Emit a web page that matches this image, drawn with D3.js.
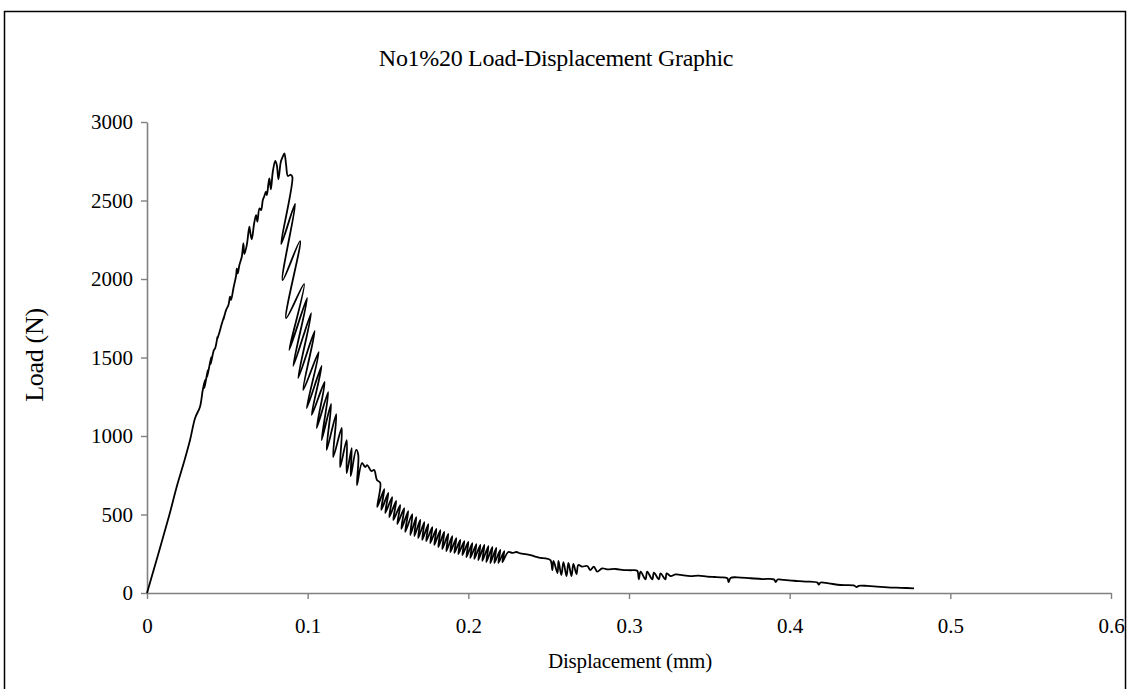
<!DOCTYPE html>
<html>
<head>
<meta charset="utf-8">
<script src="https://cdn.jsdelivr.net/npm/d3@7"></script>
<style>
  body { margin: 0; background: #fff; }
  svg { display: block; }
  text { font-family: "Liberation Serif", "Times New Roman", serif; fill: #000; }
</style>
</head>
<body>
<svg id="chart" width="1134" height="689"></svg>
<script>
// Measured load-displacement record (displacement in mm, load in N)
const displacement = [
  0, 0.0139, 0.0185, 0.0234, 0.0268, 0.0299, 0.0330, 0.0347, 0.0361, 0.0358,
  0.0378, 0.0375, 0.0399, 0.0396, 0.0417, 0.0424, 0.0438, 0.0434, 0.0450, 0.0465,
  0.0480, 0.0475, 0.0492, 0.0507, 0.0517, 0.0523, 0.0538, 0.0555, 0.0559, 0.0565,
  0.0575, 0.0590, 0.0600, 0.0606, 0.0621, 0.0637, 0.0642, 0.0652, 0.0667, 0.0679,
  0.0687, 0.0700, 0.0710, 0.0721, 0.0729, 0.0740, 0.0746, 0.0756, 0.0762, 0.0771,
  0.0783, 0.0798, 0.0808, 0.0818, 0.0833, 0.0845, 0.0855, 0.0866, 0.0877, 0.0895,
  0.0905,
  // post-peak saw-tooth
  0.0835, 0.0922, 0.0844, 0.0953, 0.0866, 0.0978, 0.0885, 0.0997, 0.0910, 0.1022,
  0.0941, 0.1044, 0.0972, 0.1069, 0.0994, 0.1087, 0.1025, 0.1106, 0.1056, 0.1128,
  0.1087, 0.1146, 0.1118, 0.1178, 0.1159, 0.1212, 0.1202, 0.1243, 0.1243, 0.1274,
  0.1268, 0.1302, 0.1315, 0.1307, 0.1338, 0.1358, 0.1371, 0.1396, 0.1414, 0.1431,
  // dense cycling band
  0.1452, 0.1433, 0.1477, 0.1458, 0.1502, 0.1483, 0.1526, 0.1508, 0.1551, 0.1533,
  0.1576, 0.1558, 0.1601, 0.1583, 0.1626, 0.1607, 0.1651, 0.1639, 0.1676, 0.1664,
  0.1701, 0.1688, 0.1726, 0.1713, 0.1751, 0.1738, 0.1776, 0.1763, 0.1801, 0.1788,
  0.1826, 0.1813, 0.1850, 0.1838, 0.1875, 0.1863, 0.1900, 0.1888, 0.1925, 0.1913,
  0.1950, 0.1938, 0.1975, 0.1963, 0.2000, 0.1988, 0.2025, 0.2012, 0.2050, 0.2037,
  0.2075, 0.2062, 0.2100, 0.2087, 0.2125, 0.2112, 0.2150, 0.2137, 0.2174, 0.2162,
  0.2199, 0.2187, 0.2224, 0.2212,
  // tail
  0.2249, 0.2274, 0.2299, 0.2324, 0.2355, 0.2386, 0.2417, 0.2449, 0.2480, 0.2511,
  0.2523, 0.2530, 0.2555, 0.2561, 0.2579, 0.2592, 0.2611, 0.2623, 0.2642, 0.2654,
  0.2673, 0.2685, 0.2708, 0.2740, 0.2760, 0.2781, 0.2802, 0.2833, 0.2864, 0.2916,
  0.2968, 0.3009, 0.3051, 0.3061, 0.3072, 0.3103, 0.3113, 0.3145, 0.3155, 0.3186,
  0.3196, 0.3227, 0.3234, 0.3259, 0.3290, 0.3321, 0.3383, 0.3433, 0.3487, 0.3533,
  0.3570, 0.3612, 0.3620, 0.3632, 0.3674, 0.3757, 0.3832, 0.3902, 0.3913, 0.3925,
  0.3963, 0.4027, 0.4100, 0.4173, 0.4181, 0.4193, 0.4243, 0.4318, 0.4399, 0.4417,
  0.4430, 0.4484, 0.4542, 0.4609, 0.4692, 0.4774
];

const load = [
  0, 497, 677, 847, 974, 1113, 1187, 1293, 1357, 1306,
  1420, 1376, 1503, 1458, 1548, 1558, 1629, 1607, 1658, 1713,
  1764, 1739, 1802, 1834, 1887, 1866, 1941, 2025, 2068, 2036,
  2089, 2142, 2227, 2159, 2216, 2333, 2301, 2253, 2355, 2407,
  2365, 2450, 2439, 2503, 2524, 2556, 2535, 2609, 2641, 2571,
  2683, 2753, 2726, 2635, 2747, 2779, 2800, 2726, 2656, 2664,
  2648,
  2223, 2478, 1993, 2242, 1751, 1968, 1548, 1879, 1446, 1783,
  1369, 1669, 1293, 1535, 1178, 1446, 1134, 1344, 1051, 1280,
  974, 1204, 911, 1140, 866, 1051, 802, 974, 764, 923,
  745, 911, 879, 688, 828, 802, 815, 777, 783, 720,
  701, 548, 662, 529, 637, 510, 611, 484, 586, 465,
  560, 439, 541, 408, 522, 389, 503, 369, 484, 363,
  465, 350, 452, 338, 439, 331, 420, 318, 408, 306,
  401, 293, 389, 280, 376, 267, 363, 261, 350, 255,
  338, 248, 331, 242, 325, 229, 318, 223, 312, 217,
  306, 210, 306, 204, 299, 197, 293, 191, 287, 191,
  274, 191, 267, 197,
  261, 255, 261, 252, 248, 242, 232, 223, 220, 210,
  146, 204, 127, 204, 115, 197, 108, 191, 108, 185,
  121, 178, 168, 172, 146, 168, 136, 157, 151, 153,
  146, 145, 142, 87, 136, 87, 136, 87, 129, 87,
  125, 87, 125, 108, 118, 115, 108, 111, 104, 102,
  100, 94, 70, 96, 100, 94, 89, 87, 70, 86,
  83, 78, 73, 66, 54, 67, 61, 51, 48, 38,
  46, 45, 41, 36, 33, 30
];

const xTicks = [0, 0.1, 0.2, 0.3, 0.4, 0.5, 0.6];
const yTicks = [0, 500, 1000, 1500, 2000, 2500, 3000];

const chartTitle = "No1%20 Load-Displacement Graphic";
const xTitle = "Displacement (mm)";
const yTitle = "Load (N)";

const svg = d3.select("#chart");

// outer chart frame
svg.append("rect")
  .attr("x", 4.5).attr("y", 11.5)
  .attr("width", 1121).attr("height", 700)
  .attr("fill", "none").attr("stroke", "#000").attr("stroke-width", 1.5);

const x = d3.scaleLinear().domain([0, 0.6]).range([147, 1111]);
const y = d3.scaleLinear().domain([0, 3000]).range([593, 122]);

const axisColor = "#808080";

const yAxis = svg.append("g")
  .attr("transform", `translate(${x(0)},0)`)
  .call(d3.axisLeft(y).tickValues(yTicks).tickSize(6).tickSizeOuter(0).tickPadding(8)
    .tickFormat(d => String(d)));

const xAxis = svg.append("g")
  .attr("transform", `translate(0,${y(0)})`)
  .call(d3.axisBottom(x).tickValues(xTicks).tickSize(6).tickSizeOuter(0)
    .tickFormat(d => String(+d.toFixed(1))));

[xAxis, yAxis].forEach(g => {
  g.select(".domain").attr("stroke", axisColor).attr("stroke-width", 1.6);
  g.selectAll(".tick line").attr("stroke", axisColor).attr("stroke-width", 1.4);
  g.selectAll(".tick text")
    .attr("font-family", "Liberation Serif, Times New Roman, serif")
    .attr("font-size", 21)
    .attr("letter-spacing", 0)
    .attr("fill", "#000");
});
xAxis.selectAll(".tick text").attr("y", 40).attr("dy", 0);

// load-displacement curve
const pts = displacement.map((d, i) => [d, load[i]]);
svg.append("path")
  .datum(pts)
  .attr("fill", "none")
  .attr("stroke", "#000")
  .attr("stroke-width", 1.8)
  .attr("stroke-linejoin", "round")
  .attr("d", d3.line().curve(d3.curveCatmullRom.alpha(0.5)).x(p => x(p[0])).y(p => y(p[1])));

// titles
svg.append("text")
  .attr("x", 556).attr("y", 66)
  .attr("text-anchor", "middle")
  .attr("font-size", 24)
  .attr("letter-spacing", -0.3)
  .text(chartTitle);

svg.append("text")
  .attr("x", 630).attr("y", 668)
  .attr("text-anchor", "middle")
  .attr("font-size", 21)
  .attr("letter-spacing", -0.2)
  .text(xTitle);

svg.append("text")
  .attr("transform", "translate(43,355) rotate(-90)")
  .attr("text-anchor", "middle")
  .attr("font-size", 26)
  .attr("letter-spacing", -0.3)
  .text(yTitle);
</script>
</body>
</html>
